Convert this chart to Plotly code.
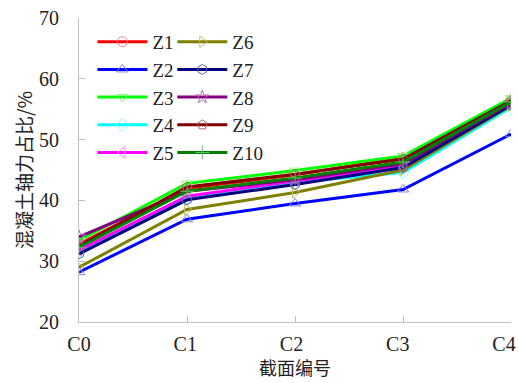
import plotly.graph_objects as go

sections = ["C0", "C1", "C2", "C3", "C4"]
series_names = ["Z1", "Z2", "Z3", "Z4", "Z5", "Z6", "Z7", "Z8", "Z9", "Z10"]
Z1 = [32.8, 42.0, 44.2, 47.0, 56.5]
Z2 = [28.2, 36.9, 39.5, 41.8, 50.9]
Z3 = [33.4, 42.8, 44.9, 47.3, 56.8]
Z4 = [31.6, 40.5, 43.0, 44.6, 55.3]
Z5 = [31.8, 40.7, 43.2, 45.6, 55.8]
Z6 = [29.0, 38.5, 41.3, 45.0, 55.6]
Z7 = [31.2, 40.1, 42.6, 45.4, 55.7]
Z8 = [34.0, 41.5, 43.4, 46.0, 56.0]
Z9 = [32.5, 42.2, 44.3, 46.8, 56.4]
Z10 = [32.3, 41.5, 43.7, 46.3, 56.2]
values = [Z1, Z2, Z3, Z4, Z5, Z6, Z7, Z8, Z9, Z10]

line_colors = ["#FF0000", "#0000FF", "#00FF00", "#00FFFF", "#FF00FF",
               "#808000", "#000080", "#800080", "#800000", "#008000"]
marker_colors = ["#F08080", "#8080FF", "#80FF80", "#80FFFF", "#FF80FF",
                 "#C0C060", "#6060C0", "#C060C0", "#C06060", "#60C060"]
symbols = ["circle-open", "triangle-up-open", "triangle-down-open", "diamond-open",
           "triangle-left-open", "triangle-right-open", "hexagon-open", "star-open",
           "pentagon-open", "cross-thin-open"]

SERIF = "Liberation Serif"
TXT = "#222222"

fig = go.Figure()
for i, (name, vals) in enumerate(zip(series_names, values)):
    fig.add_trace(go.Scatter(
        x=sections, y=vals, name=name, mode="lines+markers",
        line=dict(color=line_colors[i], width=3),
        marker=dict(symbol=symbols[i], size=10, color=marker_colors[i],
                    line=dict(color=marker_colors[i], width=1)),
        legend="legend" if i < 5 else "legend2",
    ))
# empty helper trace so the label-only axis (x2) is drawn
fig.add_trace(go.Scatter(x=[], y=[], xaxis="x2", yaxis="y", showlegend=False,
                         hoverinfo="skip"))

legend_common = dict(
    font=dict(family=SERIF, size=19, color=TXT),
    bgcolor="rgba(0,0,0,0)", borderwidth=0,
    xanchor="left", yanchor="top", itemwidth=50,
)
fig.update_layout(
    width=518, height=383,
    margin=dict(l=79, r=7, t=18, b=61),
    paper_bgcolor="white", plot_bgcolor="white",
    showlegend=True,
    legend=dict(x=0.031, y=0.984, **legend_common),
    legend2=dict(x=0.216, y=0.984, **legend_common),
    font=dict(family=SERIF, size=19, color=TXT),
    xaxis2=dict(
        overlaying="x", anchor="y", side="bottom",
        range=[0, 4.066], showline=False, ticks="", showgrid=False, zeroline=False,
        tickmode="array", tickvals=list(range(len(sections))), ticktext=sections,
        tickfont=dict(family=SERIF, size=20, color=TXT), ticklabelstandoff=8,
        automargin=False,
    ),
)
fig.layout.xaxis.update(
    type="category", range=[0, 4], automargin=False,
    showline=True, linecolor="#C0C0C0", linewidth=1,
    ticks="inside", ticklen=6, tickcolor="#C0C0C0",
    showgrid=False, zeroline=False, showticklabels=False,
    title=dict(text="截面编号", font=dict(family="Noto Sans CJK SC", size=18, color=TXT), standoff=40),
)
fig.layout.yaxis.update(
    range=[20, 70], dtick=10, automargin=False,
    showline=True, linecolor="#C0C0C0", linewidth=1,
    ticks="inside", ticklen=6, tickcolor="#C0C0C0",
    showgrid=False, zeroline=False,
    tickfont=dict(family=SERIF, size=20, color=TXT),
    ticklabelstandoff=15,
    title=dict(text="混凝土轴力占比/%", font=dict(family="Noto Sans CJK SC", size=19, color=TXT), standoff=1),
)
fig.write_html("out.html", post_script="document.body.style.margin='0';",
               config={"displayModeBar": False})
